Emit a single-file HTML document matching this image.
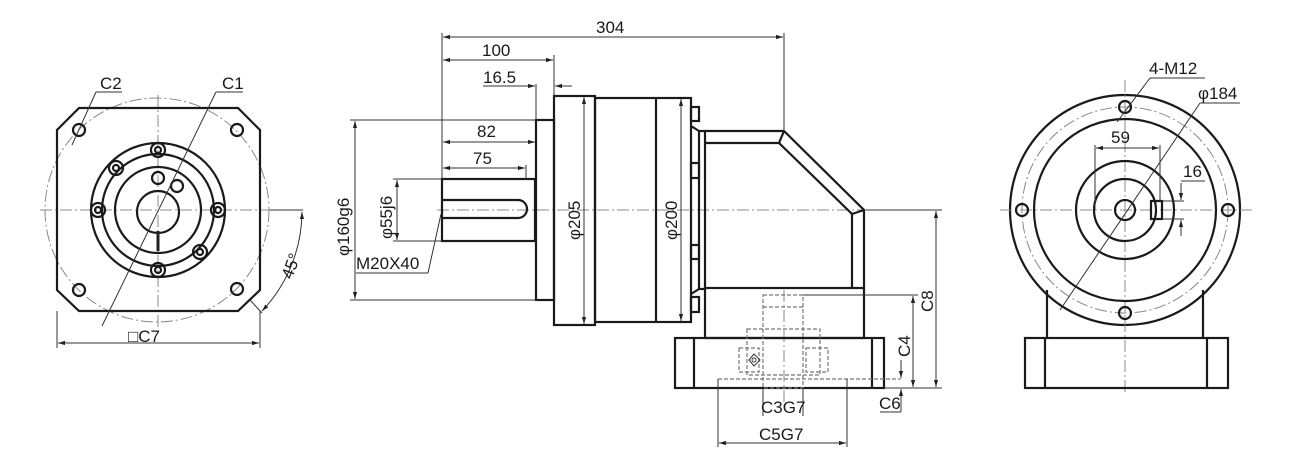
<!DOCTYPE html>
<html><head><meta charset="utf-8"><style>
html,body{margin:0;padding:0;background:#fff;}
svg{display:block;}
text{font-family:"Liberation Sans",sans-serif;font-size:17px;fill:#1a1a1a;}
.m{stroke:#1a1a1a;stroke-width:2.2;fill:none;}
.t{stroke:#333;stroke-width:1;fill:none;}
.c{stroke:#888;stroke-width:1;fill:none;stroke-dasharray:12 3 2 3;}
.d{stroke:#777;stroke-width:1.2;fill:none;stroke-dasharray:4 2;}
</style></head><body>
<svg width="1300" height="470" viewBox="0 0 1300 470" xmlns="http://www.w3.org/2000/svg">
<defs>
<marker id="a" viewBox="0 0 10 10" refX="10" refY="5" markerWidth="7" markerHeight="7" orient="auto-start-reverse"><path d="M0,2 L10,5 L0,8 z" fill="#222"/></marker>
</defs>

<!-- LEFT VIEW -->
<line class="c" x1="40" y1="210" x2="300" y2="210"/>
<line class="c" x1="158" y1="95" x2="158" y2="330"/>
<circle class="c" cx="157" cy="210" r="112"/>
<path class="m" d="M79,108 L238,108 L260,130 L260,290 L238,311 L79,311 L57,290 L57,130 Z"/>
<g class="m" stroke-width="1.6">
<circle cx="79" cy="130" r="6"/><circle cx="237" cy="130" r="6"/>
<circle cx="79" cy="290" r="6"/><circle cx="237" cy="289" r="6"/>
</g>
<circle class="m" cx="158" cy="210" r="67"/>
<circle class="m" cx="158" cy="210" r="56"/>
<circle class="m" cx="158" cy="210" r="43"/>
<circle class="m" cx="158" cy="212" r="21"/>
<g class="m" stroke-width="1.6">
<circle cx="158" cy="150" r="7"/><circle cx="158" cy="150" r="3"/>
<circle cx="158" cy="270" r="7"/><circle cx="158" cy="270" r="3"/>
<circle cx="98" cy="210" r="7"/><circle cx="98" cy="210" r="3"/>
<circle cx="218" cy="210" r="7"/><circle cx="218" cy="210" r="3"/>
<circle cx="116" cy="168" r="7"/><circle cx="116" cy="168" r="3"/>
<circle cx="200" cy="252" r="7"/><circle cx="200" cy="252" r="3"/>
<circle cx="158" cy="178" r="6"/><circle cx="177" cy="186" r="6"/>
</g>
<line x1="158" y1="231" x2="158" y2="251" stroke="#222" stroke-width="3"/>
<line class="t" x1="96" y1="92" x2="122" y2="92"/>
<line class="t" x1="96" y1="92" x2="72" y2="145"/>
<text x="100" y="89">C2</text>
<line class="t" x1="216" y1="92" x2="243" y2="92"/>
<line class="t" x1="216" y1="92" x2="102" y2="326"/>
<text x="222" y="89">C1</text>
<line class="t" x1="57" y1="311" x2="57" y2="348"/>
<line class="t" x1="260" y1="311" x2="260" y2="348"/>
<line class="t" x1="58" y1="343" x2="259" y2="343" marker-start="url(#a)" marker-end="url(#a)"/>
<text x="128" y="342">□C7</text>
<line class="t" x1="270" y1="210" x2="303" y2="210"/>
<line class="t" x1="250" y1="300" x2="262" y2="313"/>
<path class="t" d="M302,212 A145,145 0 0 1 262,311" marker-start="url(#a)" marker-end="url(#a)"/>
<text x="0" y="0" transform="translate(292,280) rotate(-70)">45°</text>

<!-- MIDDLE VIEW -->
<line class="c" x1="437" y1="210" x2="940" y2="210"/>
<line class="c" x1="784" y1="290" x2="784" y2="410"/>
<rect class="m" x="442" y="179" width="93" height="62"/>
<path class="m" d="M443,200 L518,200 A9,9 0 0 1 518,218 L443,218"/>
<rect class="m" x="536" y="120" width="18" height="180"/>
<rect class="m" x="554" y="96" width="41" height="229"/>
<rect class="m" x="595" y="98" width="96" height="224"/>
<line class="m" x1="656" y1="98" x2="656" y2="322"/>
<g class="m" stroke-width="1.6">
<rect x="691" y="107" width="8" height="14"/><rect x="691" y="163" width="8" height="15"/>
<rect x="691" y="245" width="8" height="14"/><rect x="691" y="297" width="8" height="15"/>
</g>
<rect class="m" x="699" y="131" width="6" height="158"/>
<line class="m" x1="691" y1="126" x2="699" y2="131"/>
<line class="m" x1="691" y1="294" x2="699" y2="289"/>
<path class="m" d="M705,131 L784,131 L864,210 L864,288"/>
<path class="m" d="M705,143 L779,143 L852,214 L852,288"/>
<line class="m" x1="784" y1="131" x2="779" y2="143"/>
<line class="m" x1="864" y1="210" x2="852" y2="214"/>
<rect class="m" x="705" y="288" width="159" height="50"/>
<rect class="m" x="675" y="338" width="209" height="50"/>
<line class="m" x1="694" y1="338" x2="694" y2="388"/>
<line class="m" x1="872" y1="338" x2="872" y2="388"/>
<rect class="d" x="763" y="295" width="40" height="93"/>
<line class="d" x1="763" y1="307" x2="803" y2="307"/>
<rect class="d" x="747" y="329" width="73" height="46"/>
<rect class="d" x="739" y="348" width="20" height="24"/>
<rect class="d" x="806" y="348" width="22" height="24"/>
<path class="t" d="M749,360 L754,354 L760,360 L754,366 Z"/>
<circle cx="754" cy="360" r="2" fill="none" stroke="#333"/>
<line class="d" x1="718" y1="379" x2="901" y2="379"/>
<line class="t" x1="442" y1="33" x2="442" y2="179"/>
<line class="t" x1="784" y1="33" x2="784" y2="131"/>
<line class="t" x1="443" y1="37" x2="783" y2="37" marker-start="url(#a)" marker-end="url(#a)"/>
<text x="596" y="33">304</text>
<line class="t" x1="554" y1="55" x2="554" y2="96"/>
<line class="t" x1="443" y1="60" x2="553" y2="60" marker-start="url(#a)" marker-end="url(#a)"/>
<text x="482" y="56">100</text>
<line class="t" x1="536" y1="84" x2="536" y2="120"/>
<line class="t" x1="483" y1="86" x2="517" y2="86"/>
<line class="t" x1="517" y1="86" x2="535" y2="86" marker-end="url(#a)"/>
<line class="t" x1="572" y1="86" x2="555" y2="86" marker-end="url(#a)"/>
<text x="483" y="83">16.5</text>
<line class="t" x1="443" y1="142" x2="535" y2="142" marker-start="url(#a)" marker-end="url(#a)"/>
<text x="477" y="137">82</text>
<line class="t" x1="526" y1="165" x2="526" y2="179"/>
<line class="t" x1="443" y1="168" x2="525" y2="168" marker-start="url(#a)" marker-end="url(#a)"/>
<text x="473" y="164">75</text>
<line class="t" x1="350" y1="120" x2="536" y2="120"/>
<line class="t" x1="350" y1="300" x2="536" y2="300"/>
<line class="t" x1="355" y1="121" x2="355" y2="299" marker-start="url(#a)" marker-end="url(#a)"/>
<text x="0" y="0" transform="translate(349,256) rotate(-90)">φ160g6</text>
<line class="t" x1="393" y1="179" x2="442" y2="179"/>
<line class="t" x1="393" y1="241" x2="442" y2="241"/>
<line class="t" x1="397" y1="180" x2="397" y2="240" marker-start="url(#a)" marker-end="url(#a)"/>
<text x="0" y="0" transform="translate(392,239) rotate(-90)">φ55j6</text>
<line class="t" x1="356" y1="273" x2="428" y2="273"/>
<line class="t" x1="428" y1="273" x2="441" y2="214"/>
<text x="356" y="269">M20X40</text>
<line class="t" x1="584" y1="97" x2="584" y2="324" marker-start="url(#a)" marker-end="url(#a)"/>
<text x="0" y="0" transform="translate(580,240) rotate(-90)">φ205</text>
<line class="t" x1="681" y1="99" x2="681" y2="321" marker-start="url(#a)" marker-end="url(#a)"/>
<text x="0" y="0" transform="translate(677,240) rotate(-90)">φ200</text>
<line class="t" x1="866" y1="210" x2="942" y2="210"/>
<line class="t" x1="884" y1="388" x2="942" y2="388"/>
<line class="t" x1="936" y1="211" x2="936" y2="387" marker-start="url(#a)" marker-end="url(#a)"/>
<text x="0" y="0" transform="translate(933,312) rotate(-90)">C8</text>
<line class="t" x1="803" y1="295" x2="918" y2="295"/>
<line class="t" x1="913" y1="296" x2="913" y2="387" marker-start="url(#a)" marker-end="url(#a)"/>
<text x="0" y="0" transform="translate(910,357) rotate(-90)">C4</text>
<line class="t" x1="901" y1="360" x2="901" y2="378" marker-end="url(#a)"/>
<line class="t" x1="901" y1="412" x2="901" y2="389" marker-end="url(#a)"/>
<line class="t" x1="880" y1="412" x2="901" y2="412"/>
<text x="879" y="409">C6</text>
<line class="t" x1="763" y1="388" x2="763" y2="416"/>
<line class="t" x1="803" y1="388" x2="803" y2="416"/>
<text x="761" y="413">C3G7</text>
<line class="t" x1="718" y1="379" x2="718" y2="447"/>
<line class="t" x1="847" y1="379" x2="847" y2="447"/>
<line class="t" x1="719" y1="443" x2="846" y2="443" marker-start="url(#a)" marker-end="url(#a)"/>
<text x="759" y="440">C5G7</text>

<!-- RIGHT VIEW -->
<line class="c" x1="1000" y1="210" x2="1255" y2="210"/>
<line class="c" x1="1125" y1="80" x2="1125" y2="395"/>
<line class="m" x1="1047" y1="290" x2="1047" y2="338"/>
<line class="m" x1="1203" y1="290" x2="1203" y2="338"/>
<circle class="m" cx="1125" cy="210" r="115" fill="#fff"/>
<line class="c" x1="1000" y1="210" x2="1255" y2="210"/>
<line class="c" x1="1125" y1="80" x2="1125" y2="395"/>
<circle class="c" cx="1125" cy="210" r="103"/>
<circle class="m" cx="1125" cy="210" r="91"/>
<circle class="m" cx="1125" cy="210" r="49"/>
<circle class="m" cx="1125" cy="210" r="31"/>
<circle class="m" cx="1125" cy="210" r="10"/>
<rect class="m" x="1151" y="201" width="11" height="18"/>
<g class="m" stroke-width="1.6">
<circle cx="1125" cy="107" r="6"/><circle cx="1125" cy="313" r="6"/>
<circle cx="1022" cy="210" r="6"/><circle cx="1228" cy="210" r="6"/>
</g>
<rect class="m" x="1025" y="338" width="203" height="50"/>
<line class="m" x1="1045" y1="338" x2="1045" y2="388"/>
<line class="m" x1="1207" y1="338" x2="1207" y2="388"/>
<line class="t" x1="1095" y1="145" x2="1095" y2="210"/>
<line class="t" x1="1160" y1="145" x2="1160" y2="201"/>
<line class="t" x1="1096" y1="148" x2="1159" y2="148" marker-start="url(#a)" marker-end="url(#a)"/>
<text x="1111" y="143">59</text>
<line class="t" x1="1162" y1="201" x2="1184" y2="201"/>
<line class="t" x1="1162" y1="219" x2="1184" y2="219"/>
<line class="t" x1="1181" y1="183" x2="1181" y2="200" marker-end="url(#a)"/>
<line class="t" x1="1181" y1="236" x2="1181" y2="220" marker-end="url(#a)"/>
<line class="t" x1="1181" y1="181" x2="1205" y2="181"/>
<text x="1183" y="177">16</text>
<line class="t" x1="1150" y1="78" x2="1205" y2="78"/>
<line class="t" x1="1150" y1="78" x2="1117" y2="122"/>
<text x="1149" y="74">4-M12</text>
<line class="t" x1="1200" y1="103" x2="1240" y2="103"/>
<line class="t" x1="1200" y1="103" x2="1060" y2="310"/>
<text x="1198" y="99">φ184</text>
</svg>
</body></html>
